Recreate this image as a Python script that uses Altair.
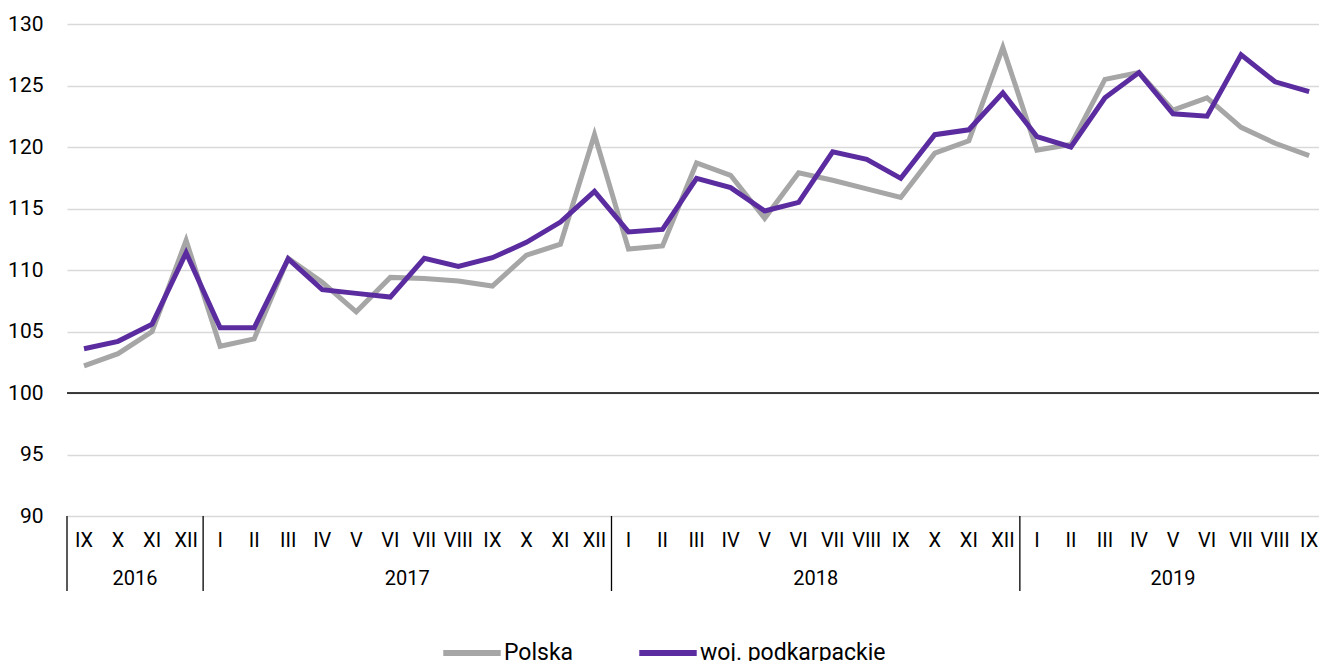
import altair as alt
import pandas as pd

months = ["IX", "X", "XI", "XII",
          "I", "II", "III", "IV", "V", "VI", "VII", "VIII", "IX", "X", "XI", "XII",
          "I", "II", "III", "IV", "V", "VI", "VII", "VIII", "IX", "X", "XI", "XII",
          "I", "II", "III", "IV", "V", "VI", "VII", "VIII", "IX"]

polska = [102.2, 103.2, 105.0, 112.4,
          103.8, 104.4, 110.95, 109.0, 106.6, 109.4, 109.3, 109.1, 108.7, 111.2, 112.1, 121.0,
          111.7, 111.95, 118.7, 117.7, 114.2, 117.9, 117.3, 116.6, 115.9, 119.5, 120.5, 128.1,
          119.75, 120.2, 125.5, 126.05, 123.0, 124.0, 121.6, 120.3, 119.3]

podkarpackie = [103.6, 104.2, 105.6, 111.4,
                105.3, 105.3, 110.9, 108.4, 108.1, 107.8, 110.95, 110.3, 111.0, 112.25, 113.9, 116.4,
                113.1, 113.3, 117.45, 116.7, 114.8, 115.5, 119.6, 119.0, 117.45, 121.0, 121.4, 124.4,
                120.85, 120.0, 124.0, 126.05, 122.7, 122.5, 127.5, 125.3, 124.5]

years = ["2016", "2017", "2018", "2019"]
year_centers = [1.5, 9.5, 21.5, 32.0]
year_bounds = [-0.5, 3.5, 15.5, 27.5]

series_names = ["Polska", "woj. podkarpackie"]
series_colors = ["#a6a6a6", "#5b2c9f"]

FONT = "Roboto"
W, H = 1252, 492

rows = []
for i, (p, k) in enumerate(zip(polska, podkarpackie)):
    rows.append({"i": i, "value": p, "series": series_names[0]})
    rows.append({"i": i, "value": k, "series": series_names[1]})
df = pd.DataFrame(rows)

xscale = alt.Scale(domain=[-0.5, 36.29], nice=False, zero=False)
yscale = alt.Scale(domain=[90, 130], nice=False, zero=False)

lines = alt.Chart(df).mark_line(strokeWidth=5, strokeJoin="miter", strokeCap="butt").encode(
    x=alt.X("i:Q", scale=xscale, axis=None),
    y=alt.Y("value:Q", scale=yscale,
            axis=alt.Axis(values=list(range(90, 131, 5)), title=None, ticks=False, domain=False,
                          grid=True, gridColor="#d9d9d9", gridWidth=1.5, labelFontSize=21,
                          labelFont=FONT, labelColor="#000000", labelPadding=24)),
    color=alt.Color("series:N", scale=alt.Scale(domain=series_names, range=series_colors),
                    legend=alt.Legend(title=None, orient="none", legendX=373, legendY=597,
                                      direction="horizontal", symbolType="stroke",
                                      symbolStrokeWidth=6, symbolSize=3300,
                                      labelFontSize=23, labelFont=FONT, labelColor="#000000",
                                      labelLimit=400, columnPadding=53, labelOffset=0)),
    order="i:Q",
)

base_line = alt.Chart(pd.DataFrame({"v": [100]})).mark_rule(color="#000000", strokeWidth=1.5).encode(
    y=alt.Y("v:Q", scale=yscale)
)

m_df = pd.DataFrame({"i": list(range(len(months))), "m": months})
m_text = alt.Chart(m_df).mark_text(fontSize=20, font=FONT, color="#000000", baseline="alphabetic").encode(
    x=alt.X("i:Q", scale=xscale),
    y=alt.value(H + 31),
    text="m:N",
)

sep_df = pd.DataFrame({"b": year_bounds})
seps = alt.Chart(sep_df).mark_rule(color="#000000", strokeWidth=1.3).encode(
    x=alt.X("b:Q", scale=xscale),
    y=alt.value(H),
    y2=alt.value(H + 75),
)

yr_df = pd.DataFrame({"year": years, "c": year_centers})
yr_text = alt.Chart(yr_df).mark_text(fontSize=20, font=FONT, color="#000000", baseline="alphabetic").encode(
    x=alt.X("c:Q", scale=xscale),
    y=alt.value(H + 69),
    text="year:N",
)

chart = alt.layer(base_line, lines, m_text, seps, yr_text).properties(
    width=W, height=H,
    autosize=alt.AutoSizeParams(type="none"),
    padding={"left": 59, "top": 16, "right": 0, "bottom": 145},
).configure_view(stroke=None)

chart.save("out.html", embed_options={"renderer": "svg", "actions": False})
